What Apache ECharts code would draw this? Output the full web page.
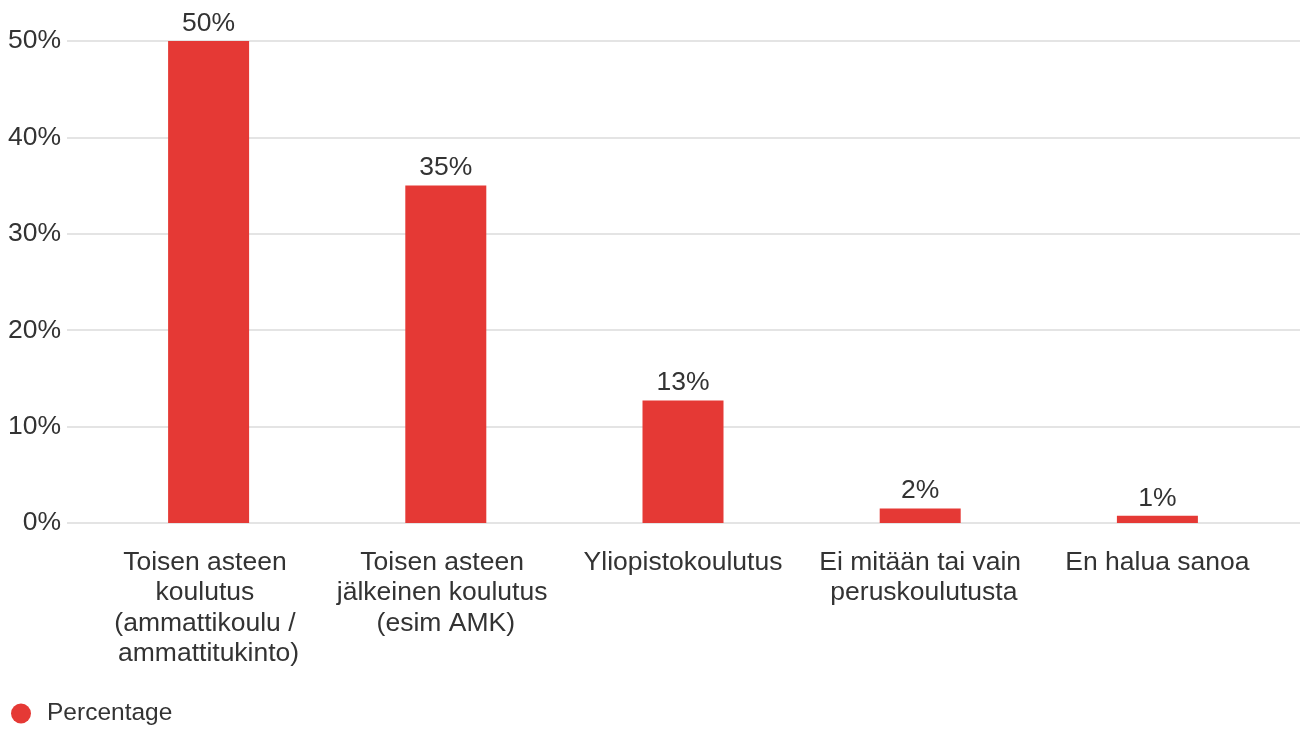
<!DOCTYPE html>
<html>
<head>
<meta charset="utf-8">
<script src="https://cdn.jsdelivr.net/npm/echarts@6/dist/echarts.min.js"></script>
<style>
  html, body { margin: 0; padding: 0; background: #fff; }
  #chart { width: 1302px; height: 731px; }
</style>
</head>
<body>
<div id="chart"></div>
<script>
  //region    //data

  let categories = [
    'Toisen asteen koulutus (ammattikoulu / ammattitukinto)',
    'Toisen asteen jälkeinen koulutus (esim AMK)',
    'Yliopistokoulutus',
    'Ei mitään tai vain peruskoulutusta',
    'En halua sanoa'
  ];
  let percentages = [50, 35, 12.7, 1.5, 0.75];
  let yTicks = [0, 10, 20, 30, 40, 50];

  //endregion

  //region    //chart

  let font = '"Liberation Sans", Arial, sans-serif';
  let textColor = '#333';
  let barColor = '#e53935';

  let chart = echarts.init(document.getElementById('chart'));

  let option = {
    animation: false,
    textStyle: { fontFamily: font },
    legend: {
      left: 6,
      bottom: 0,
      icon: 'circle',
      itemWidth: 20,
      itemHeight: 20,
      data: ['Percentage'],
      textStyle: { fontSize: 24.5, color: textColor, fontFamily: font, padding: [0, 0, 0, 11] }
    },
    grid: [
      { left: 67, right: 2, top: 41, bottom: 208 },
      { left: 90, right: 26, top: 41, bottom: 208 }
    ],
    xAxis: [
      { gridIndex: 0, type: 'value', show: false, min: 0, max: 1 },
      {
        gridIndex: 1,
        type: 'category',
        data: categories,
        axisLine: { show: false },
        axisTick: { show: false },
        axisLabel: {
          interval: 0,
          margin: 24,
          width: 232,
          overflow: 'break',
          fontSize: 26.5,
          lineHeight: 30.5,
          color: textColor,
          fontFamily: font
        }
      }
    ],
    yAxis: [
      {
        gridIndex: 0,
        type: 'value',
        min: yTicks[0],
        max: yTicks[yTicks.length - 1],
        interval: 10,
        axisLine: { show: false },
        axisTick: { show: false },
        axisLabel: {
          margin: 6,
          fontSize: 26.5,
          color: textColor,
          fontFamily: font,
          formatter: v => v + '%'
        },
        splitLine: { lineStyle: { color: '#e4e4e4', width: 2 } }
      },
      {
        gridIndex: 1,
        type: 'value',
        min: yTicks[0],
        max: yTicks[yTicks.length - 1],
        show: false
      }
    ],
    series: [
      {
        name: 'Percentage',
        type: 'bar',
        xAxisIndex: 1,
        yAxisIndex: 1,
        barWidth: 81,
        clip: false,
        itemStyle: { color: barColor },
        label: {
          show: true,
          position: 'top',
          distance: 4,
          fontSize: 26.5,
          color: textColor,
          fontFamily: font,
          formatter: p => Math.round(p.value) + '%'
        },
        data: percentages
      }
    ]
  };

  chart.setOption(option);

  //endregion
</script>
</body>
</html>
